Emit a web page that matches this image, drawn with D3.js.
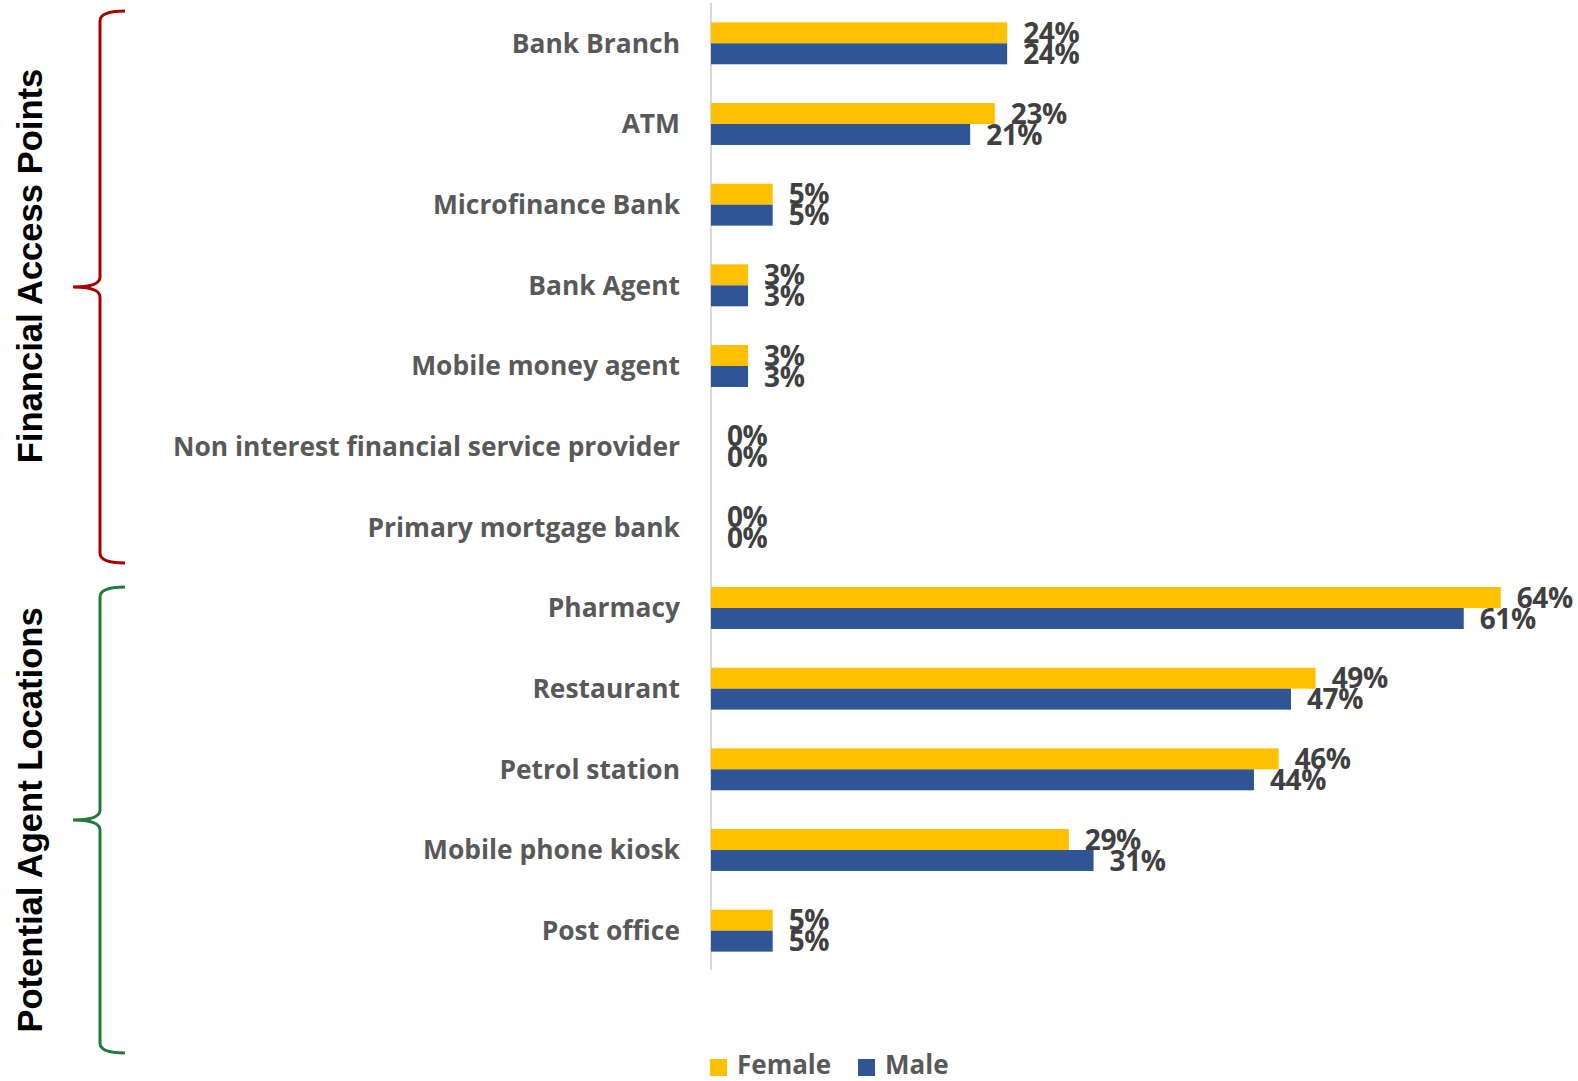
<!DOCTYPE html>
<html>
<head>
<meta charset="utf-8">
<script src="https://cdnjs.cloudflare.com/ajax/libs/d3/7.8.5/d3.min.js"></script>
<style>
  html, body { margin: 0; padding: 0; background: #fff; }
  svg { display: block; }
</style>
</head>
<body>
<svg id="chart" width="1578" height="1081"></svg>
<script>
// Access point / agent location categories, top to bottom
const categories = [
  "Bank Branch", "ATM", "Microfinance Bank", "Bank Agent", "Mobile money agent",
  "Non interest financial service provider", "Primary mortgage bank",
  "Pharmacy", "Restaurant", "Petrol station", "Mobile phone kiosk", "Post office"
];
const female = [24, 23, 5, 3, 3, 0, 0, 64, 49, 46, 29, 5];
const male   = [24, 21, 5, 3, 3, 0, 0, 61, 47, 44, 31, 5];
const seriesNames = ["Female", "Male"];
const groups = [
  { title: "Financial Access Points", first: 0, last: 6, color: "#A80000" },
  { title: "Potential Agent Locations", first: 7, last: 11, color: "#1E7B3C" }
];

const colors = { Female: "#FFC000", Male: "#2F5597" };
const svg = d3.select("#chart");

const x = d3.scaleLinear().domain([0, 70]).range([711, 711 + 70 * 12.34]);
const y = d3.scaleBand().domain(categories).range([3, 971])
  .paddingInner(0.48).paddingOuter(0.24);
const bw = y.bandwidth() / 2;

// vertical category axis line
svg.append("line")
  .attr("x1", x(0)).attr("x2", x(0))
  .attr("y1", 3).attr("y2", 970)
  .attr("stroke", "#D9D9D9").attr("stroke-width", 2);

const rows = categories.map((c, i) => ({ c, f: female[i], m: male[i] }));

const g = svg.append("g");
const row = g.selectAll("g.row").data(rows).join("g").attr("class", "row");

row.append("rect")
  .attr("x", x(0)).attr("y", d => y(d.c))
  .attr("width", d => x(d.f) - x(0)).attr("height", bw)
  .attr("fill", colors.Female);
row.append("rect")
  .attr("x", x(0)).attr("y", d => y(d.c) + bw)
  .attr("width", d => x(d.m) - x(0)).attr("height", bw)
  .attr("fill", colors.Male);

// value labels
const valueFont = "'Open Sans', sans-serif";
row.append("text")
  .attr("x", d => x(d.f) + 16).attr("y", d => y(d.c) + bw / 2)
  .attr("dy", "0.36em")
  .attr("font-family", valueFont).attr("font-weight", 700).attr("font-size", 28)
  .attr("letter-spacing", -0.4)
  .attr("fill", "#404040")
  .text(d => d.f + "%");
row.append("text")
  .attr("x", d => x(d.m) + 16).attr("y", d => y(d.c) + bw * 1.5)
  .attr("dy", "0.36em")
  .attr("font-family", valueFont).attr("font-weight", 700).attr("font-size", 28)
  .attr("letter-spacing", -0.4)
  .attr("fill", "#404040")
  .text(d => d.m + "%");

// category labels
svg.append("g").selectAll("text").data(categories).join("text")
  .attr("x", 680).attr("y", d => y(d) + y.bandwidth() / 2)
  .attr("dy", "0.35em")
  .attr("text-anchor", "end")
  .attr("font-family", valueFont).attr("font-weight", 700).attr("font-size", 26.4)
  .attr("fill", "#595959")
  .text(d => d);

// group braces and titles
function bracePath(top, bottom, mid) {
  const xv = 100, xr = 125, xt = 73, r = 10;
  return `M${xr},${top} Q${xv},${top} ${xv},${top + r}` +
    ` L${xv},${mid - r} Q${xv},${mid} ${xt},${mid}` +
    ` Q${xv},${mid} ${xv},${mid + r}` +
    ` L${xv},${bottom - r} Q${xv},${bottom} ${xr},${bottom}`;
}
const braceExtents = [[11, 563], [587, 1053]];
const titleCenters = [266, 820];
groups.forEach((gr, i) => {
  const [top, bottom] = braceExtents[i];
  const mid = (top + bottom) / 2;
  svg.append("path")
    .attr("d", bracePath(top, bottom, mid))
    .attr("fill", "none").attr("stroke", gr.color).attr("stroke-width", 3);
  svg.append("text")
    .attr("transform", `translate(42,${titleCenters[i]}) rotate(-90)`)
    .attr("text-anchor", "middle")
    .attr("font-family", "'Liberation Sans', Arial, sans-serif")
    .attr("font-weight", 700).attr("font-size", 34.6)
    .attr("fill", "#000")
    .text(gr.title);
});

// legend
const legend = svg.append("g");
const legendX = [710, 858];
seriesNames.forEach((s, i) => {
  legend.append("rect")
    .attr("x", legendX[i]).attr("y", 1059).attr("width", 17).attr("height", 17)
    .attr("fill", colors[s]);
  legend.append("text")
    .attr("x", legendX[i] + 27).attr("y", 1065)
    .attr("dy", "0.36em")
    .attr("font-family", valueFont).attr("font-weight", 700).attr("font-size", 26)
    .attr("fill", "#595959")
    .text(s);
});
</script>
</body>
</html>
